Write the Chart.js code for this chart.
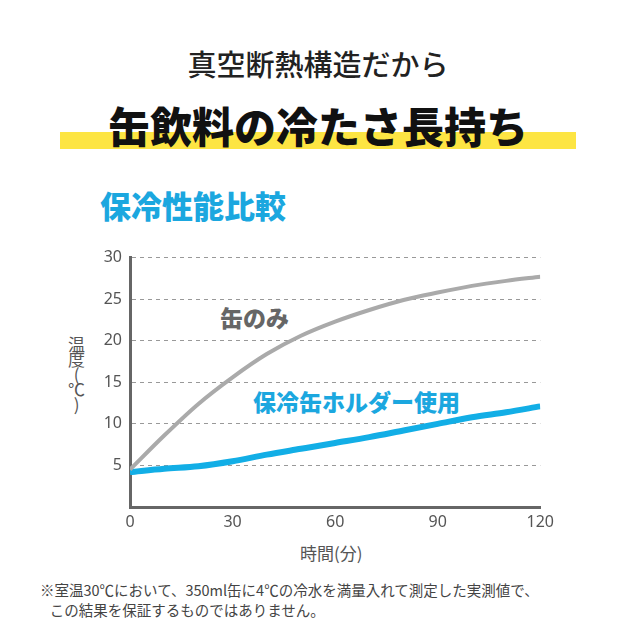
<!DOCTYPE html>
<html><head><meta charset="utf-8">
<script src="https://cdn.jsdelivr.net/npm/chart.js@4"></script>
<style>
body{margin:0;width:636px;height:636px;background:#fff;position:relative;font-family:"Noto Sans CJK JP",sans-serif;overflow:hidden}
.t{position:absolute;white-space:nowrap}
</style></head><body>
<div class="t" style="left:0;width:636px;text-align:center;top:42px;font-size:29px;color:#222;font-weight:500">真空断熱構造だから</div>
<div class="t" style="left:60px;width:516px;top:132px;height:17px;background:#fde543"></div>
<div class="t" style="left:0;width:636px;text-align:center;top:94px;font-size:42px;color:#111;font-weight:900">缶飲料の冷たさ長持ち</div>
<div class="t" style="left:100px;top:182px;font-size:31px;color:#1ba7df;font-weight:900">保冷性能比較</div>
<div class="t" style="left:64px;top:336px;font-size:17px;color:#555;writing-mode:vertical-rl;text-orientation:upright;letter-spacing:-2px">温度(℃)</div>
<div class="t" style="left:300px;top:540px;font-size:17px;color:#555">時間(分)</div>
<div class="t" style="left:220px;top:300px;font-size:23px;color:#666;font-weight:900">缶のみ</div>
<div class="t" style="left:253px;top:384px;font-size:23px;color:#1ba7df;font-weight:900">保冷缶ホルダー使用</div>
<div class="t" style="left:40px;top:580px;font-size:14.5px;color:#444;line-height:20px">※室温30℃において、350ml缶に4℃の冷水を満量入れて測定した実測値で、<br>&nbsp;&nbsp;&nbsp;この結果を保証するものではありません。</div>
<div style="position:absolute;left:60px;top:240px;width:500px;height:330px"><canvas id="c"></canvas></div>
<script>
// 時間(分) and temperature readings
var minutes = [0, 10, 20, 30, 40, 50, 60, 70, 80, 90, 100, 110, 120];
var canOnly = [4.5, 8.6, 12.4, 15.6, 18.4, 20.6, 22.3, 23.7, 24.9, 25.8, 26.6, 27.2, 27.7];
var withHolder = [4.2, 4.6, 4.9, 5.5, 6.3, 7.0, 7.7, 8.4, 9.2, 10.0, 10.8, 11.4, 12.1];
var xTicks = [0, 30, 60, 90, 120];
var yTicks = [5, 10, 15, 20, 25, 30];

function pts(arr) { return minutes.map((m, i) => ({x: m, y: arr[i]})); }

new Chart(document.getElementById('c'), {
    type: 'line',
    data: {
        datasets: [
            {label: '缶のみ', data: pts(canOnly), borderColor: '#aaaaaa', borderWidth: 4, pointRadius: 0, tension: 0.4, cubicInterpolationMode: 'monotone'},
            {label: '保冷缶ホルダー使用', data: pts(withHolder), borderColor: '#12aee6', borderWidth: 6, pointRadius: 0, tension: 0.4, cubicInterpolationMode: 'monotone'}
        ]
    },
    options: {
        responsive: true,
        maintainAspectRatio: false,
        animation: false,
        layout: {padding: {top: 3, right: 8}},
        plugins: {legend: {display: false}, tooltip: {enabled: false}},
        scales: {
            x: {
                type: 'linear', min: 0, max: 120,
                afterBuildTicks: s => { s.ticks = xTicks.map(v => ({value: v})); },
                afterFit: s => { s.height = 63; },
                grid: {display: false, drawTicks: false},
                border: {color: '#666', width: 3},
                ticks: {color: '#555', font: {size: 16, family: 'Noto Sans'}, padding: 6}
            },
            y: {
                min: 0, max: 30,
                afterBuildTicks: s => { s.ticks = yTicks.map(v => ({value: v})); },
                afterFit: s => { s.width = 70; },
                grid: {color: '#999', lineWidth: 1, drawTicks: false},
                border: {color: '#666', width: 3, dash: [4, 4]},
                ticks: {color: '#555', font: {size: 16, family: 'Noto Sans'}, padding: 8}
            }
        }
    }
});
</script>
</body></html>
